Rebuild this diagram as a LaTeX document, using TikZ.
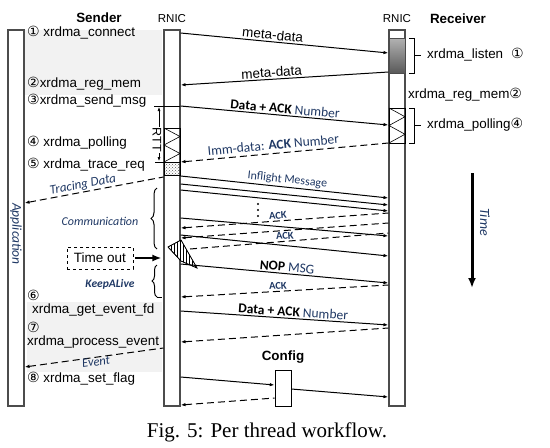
\documentclass[tikz,border=0pt]{standalone}
\usepackage{fontspec}
\setmainfont{Liberation Sans}
\newfontfamily\calfont{Carlito}
\newfontfamily\circfont{DejaVu Sans}
\newfontfamily\capfont{Liberation Serif}
\usetikzlibrary{
  arrows.meta,
  calc,
  patterns,
  positioning,
  decorations.pathreplacing
}
\definecolor{navy}{RGB}{31,56,100}
\newcommand{\cnum}[1]{{\circfont\fontsize{14}{14}\selectfont #1}}
\tikzset{
%
  % For normal lines.
  line/.style={
    line width=1pt},
%
  % For thin lines.
  thin line/.style={
    line width=0.6pt},
%
  % For the lifelines.
  bar/.style={
    draw=gray!60!black,
    line width=1.1pt,
    fill=white,
    inner sep=0pt,
    minimum width=16pt,
    minimum height=376pt},
%
  % For the API calls.
  call/.style={
    anchor=west,
    inner sep=0pt,
    font=\fontsize{13.4}{15}\selectfont},
%
  % For requests.
  msg/.style={
    line,
    -{Latex[length=5pt,
            width=3.5pt]}},
%
  % For solid answers (drawn from left to right).
  answer/.style={
    line,
    {Latex[length=5pt,
           width=3.5pt]}-},
%
  % For dashed answers (drawn from left to right).
  reply/.style={
    answer,
    dash pattern=on 7pt off 4pt},
%
  % For labels on messages.
  msg label/.style={
    sloped,
    inner sep=1.5pt,
    text=navy,
    font=\calfont\fontsize{13.5}{15}\selectfont},
%
  % For the small ACK labels.
  ack/.style={
    msg label,
    font=\calfont\bfseries\fontsize{10.5}{12}\selectfont},
%
  % For notes in italics.
  note/.style={
    text=navy,
    inner sep=1pt,
    font=\calfont\itshape\fontsize{12}{14}\selectfont},
%
  % For titles.
  head/.style={
    font=\bfseries\fontsize{13.4}{15}\selectfont}
}

\begin{document}
\begin{tikzpicture}[x=1pt, y=-1pt]
  \useasboundingbox (0,0) rectangle (550,448);

  % shaded phases
  \fill[gray!10] (25,30) rectangle (162,95);
  \fill[gray!10] (27,302) rectangle (162,372);

  % lifelines
  \node[bar] (app) at (16,218) {};
  \node[bar] (snic) at (172,218) {};
  \node[bar] (rnic) at (397,218) {};
  \node[note, rotate=-90, font=\calfont\itshape\fontsize{13.5}{15}\selectfont]
    (apptext) at (16,234) {Application};

  \node[head] (sender) at (99,18) {Sender};
  \node[font=\fontsize{11.5}{13}\selectfont] (stitle) at (172,19) {RNIC};
  \node[font=\fontsize{11.5}{13}\selectfont] (rtitle) at (397,19) {RNIC};
  \node[head] (receiver) at (458,19) {Receiver};

  % sender side calls
  \node[call] (c1) at (27,33) {\cnum{①} xrdma\_connect};
  \node[call] (c2) at (27,84) {\cnum{②}xrdma\_reg\_mem};
  \node[call] (c3) at (27,101) {\cnum{③}xrdma\_send\_msg};
  \node[call] (c4) at (27,143) {\cnum{④} xrdma\_polling};
  \node[call] (c5) at (27,165) {\cnum{⑤} xrdma\_trace\_req};
  \node[call] (c6) at (27,295) {\cnum{⑥}};
  \node[call] (c6b) at (32,310) {xrdma\_get\_event\_fd};
  \node[call] (c7) at (27,327) {\cnum{⑦}};
  \node[call] (c7b) at (27,342) {xrdma\_process\_event};
  \node[call] (c8) at (27,379) {\cnum{⑧} xrdma\_set\_flag};

  % receiver side calls
  \draw[line, draw=gray!60!black, top color=gray!60, bottom color=gray!70!black]
    (389,38) rectangle (405,73);
  \draw[thin line] (409,38) -- (414,38) -- (414,73) -- (409,73)
    (414,55.5) -- (421,55.5);
  \node[call] (r1) at (427,55) {xrdma\_listen\hspace{8pt}\cnum{①}};
  \node[call] (r2) at (408,95) {xrdma\_reg\_mem\cnum{②}};
  \draw[thin line] (389,108) rectangle (405,143);
  \draw[thin line] (389,108) -- (405,116.75) -- (389,125.5)
    -- (405,134.25) -- (389,143);
  \draw[thin line] (409,108) -- (414,108) -- (414,143) -- (409,143)
    (414,125.5) -- (421,125.5);
  \node[call] (r4) at (427,125) {xrdma\_polling\cnum{④}};

  % polling, RTT and trace on the sender RNIC
  \draw[thin line] (154,106) -- (180,106);
  \draw[thin line] (155,162) -- (164,162);
  \draw[thin line] (164,128) rectangle (180,162);
  \draw[thin line] (164,128) -- (180,136.5) -- (164,145)
    -- (180,153.5) -- (164,162);
  \draw[thin line, pattern=crosshatch dots, pattern color=gray!70!black]
    (164,162) rectangle (180,175);
  \draw[thin line, {Latex[length=4pt,width=3pt]}-{Latex[length=4pt,width=3pt]}]
    (159,107) -- (159,161);
  \node[fill=white, inner sep=0.5pt, rotate=-90, font=\fontsize{12.5}{14}\selectfont]
    (rtt) at (157,140) {RTT};

  % connection set-up
  \draw[msg] (snic.east |- 0,33) --
    node[msg label, above, pos=0.44, text=black, font=\fontsize{13.5}{15}\selectfont]
      {meta-data}
    (rnic.west |- 0,53);
  \draw[answer] (snic.east |- 0,85) --
    node[msg label, above, pos=0.44, text=black, font=\fontsize{13.5}{15}\selectfont]
      {meta-data}
    (rnic.west |- 0,72);

  % data and polling
  \draw[msg] (snic.east |- 0,106) --
    node[msg label, above, pos=0.5, text=black] {\textbf{Data + ACK} \textcolor{navy}{Number}}
    (rnic.west |- 0,125);
  \draw[reply] (snic.east |- 0,162) --
    node[msg label, above=2pt, pos=0.45] {Imm-data: \textbf{ACK} Number}
    (rnic.west |- 0,143);
  \draw[reply] (app.east |- 0,203) --
    node[note, sloped, above, pos=0.43, font=\calfont\itshape\fontsize{13}{15}\selectfont]
      {Tracing Data}
    (snic.west |- 0,177);

  % communication
  \draw[msg] (snic.east |- 0,176) --
    node[msg label, above, pos=0.51, font=\calfont\fontsize{12}{14}\selectfont]
      {Inflight Message}
    (rnic.west |- 0,198);
  \draw[msg] (snic.east |- 0,184) -- (rnic.west |- 0,205);
  \draw[msg] (snic.east |- 0,190) -- (rnic.west |- 0,211);
  \foreach \y in {204,210,216}
    \fill (258,\y) circle (1.1pt);
  \draw[reply] (snic.east |- 0,228) --
    node[ack, above, pos=0.47] {ACK}
    (rnic.west |- 0,213);
  \draw[msg] (snic.east |- 0,218) -- (rnic.west |- 0,236);
  \draw[reply] (snic.east |- 0,238) -- (rnic.west |- 0,223);
  \coordinate (hit) at (190,249);
  \draw[line, dash pattern=on 7pt off 4pt] (hit) --
    node[ack, above, pos=0.48] {ACK}
    (rnic.west |- 0,233);
  \draw[msg] (snic.east |- 0,235) -- (rnic.west |- 0,256);
  \draw[thin line, fill=white] (168,247) -- (181,240) -- (197,268) -- (181,261) -- cycle;
  \draw[thin line, pattern=vertical lines] (168,247) -- (181,240) -- (197,268)
    -- (181,261) -- cycle;

  \draw[line, decorate, decoration={brace, amplitude=6pt}] (157,249) -- (157,188);
  \node[note] (comm) at (100,221) {Communication};

  % time out and keep alive
  \node[draw, thin line, dashed, minimum width=66pt, minimum height=22pt,
        font=\fontsize{13.5}{15}\selectfont] (timeout) at (100,258) {Time out};
  \draw[line width=2.2pt, -{Latex[length=9pt,width=7pt]}, shorten <=2pt, shorten >=2pt]
    (timeout.east) -- (snic.west |- timeout.east);
  \draw[msg] (snic.east |- 0,264) --
    node[msg label, above, pos=0.51, text=black] {\textbf{NOP} \textcolor{navy}{MSG}}
    (rnic.west |- 0,283);
  \draw[reply] (snic.east |- 0,297) --
    node[ack, above, pos=0.47] {ACK}
    (rnic.west |- 0,285);
  \draw[line, decorate, decoration={brace, amplitude=5pt}] (157,297) -- (157,265);
  \draw[line] (157,297) -- (162,297);
  \node[note, font=\calfont\itshape\bfseries\fontsize{11.5}{13}\selectfont]
    (alive) at (110,284) {KeepALive};

  % events
  \draw[msg] (snic.east |- 0,311) --
    node[msg label, above, pos=0.54, text=black] {\textbf{Data + ACK} \textcolor{navy}{Number}}
    (rnic.west |- 0,325);
  \draw[reply] (snic.east |- 0,342) -- (rnic.west |- 0,328);
  \draw[reply] (app.east |- 0,367) --
    node[note, sloped, below, inner sep=0pt, pos=0.51,
         font=\calfont\itshape\fontsize{12.5}{14}\selectfont]
      {Event}
    (snic.west |- 0,348);

  % config
  \node[draw, thin line, inner sep=0pt, minimum width=16pt, minimum height=36pt]
    (config) at (283,388) {};
  \node[head, above=3pt of config] (configtext) {Config};
  \draw[msg] (snic.east |- 0,377) -- (config.west |- 0,385);
  \draw[msg] (config.east |- 0,389) -- (rnic.west |- 0,397);
  \draw[reply] (snic.east |- 0,405) -- (config.west |- 0,398);

  % time
  \coordinate (t0) at (472,173);
  \coordinate (t1) at (472,288);
  \draw[line width=3pt, -{Latex[length=10pt,width=8pt]}] (t0) -- (t1);
  \node[note, rotate=-90, font=\calfont\itshape\fontsize{14}{16}\selectfont]
    (time) at (485,222) {Time};

  % caption
  \node[font=\capfont\fontsize{21}{24}\selectfont] (caption) at (267,432)
    {Fig. 5: Per thread workflow.};
\end{tikzpicture}
\end{document}
